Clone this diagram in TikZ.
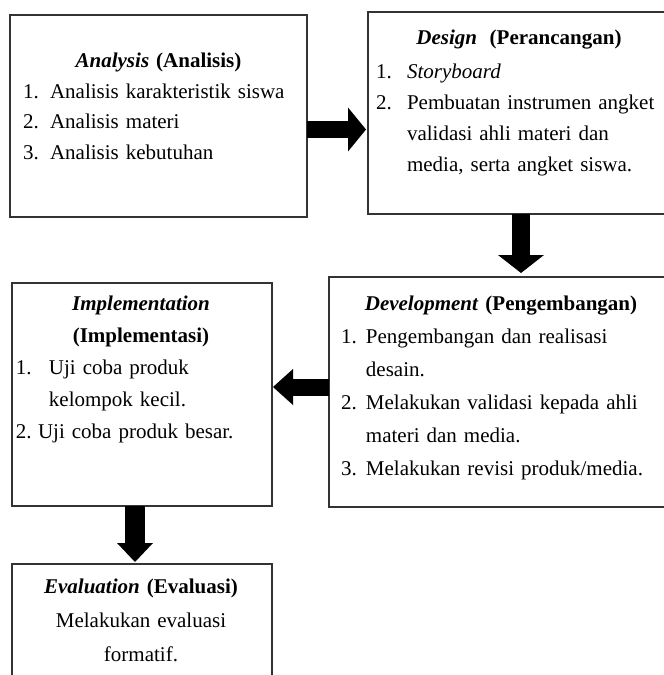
\documentclass[tikz,border=0pt]{standalone}
\usepackage{fontspec}
\setmainfont{Liberation Serif}
\usetikzlibrary{arrows.meta,calc,positioning}
\setlength{\parskip}{0pt}
\newcommand{\itm}[3][1.3em]{\noindent\makebox[#1][l]{#2}#3\par}
\newcommand{\cont}[2][1.3em]{\noindent\hspace*{#1}#2\par}

\tikzset{
	box/.style={draw=black!80, line width=1.1pt, anchor=north west, inner sep=0pt, outer sep=0pt},
	txt/.style={inner sep=0pt, outer sep=0pt, font=\fontsize{15.75}{#1}\selectfont},
	ttl/.style={txt=#1, anchor=base, text width=250pt, align=center},
	lst/.style={txt=#1, anchor=base west, text width=240pt, align=left},
	blockarrow/.style n args={3}{line width=#1, -{Triangle[width=#2, length=#3, line width=0pt]}},
}

\begin{document}
\begin{tikzpicture}[x=0.75pt, y=-0.75pt]
	\useasboundingbox (0,0) rectangle (664,675);
	\clip (0,0) rectangle (664,675);

	% boxes
	\node[box, minimum width=297*0.75pt, minimum height=202*0.75pt] (ana) at (10,15) {};
	\node[box, minimum width=302*0.75pt, minimum height=202*0.75pt] (des) at (368,12) {};
	\node[box, minimum width=345*0.75pt, minimum height=230*0.75pt] (dev) at (329,277) {};
	\node[box, minimum width=260*0.75pt, minimum height=223*0.75pt] (imp) at (12,283) {};
	\node[box, minimum width=260*0.75pt, minimum height=140*0.75pt] (eva) at (12,564) {};

	% texts
	\node[ttl=23pt] (anat) at (158.5,67) {\textbf{\textit{Analysis}} \textbf{(Analisis)}};
	\node[lst=23pt] (anal) at (23,98) {\itm[1.29em]{1.}{Analisis karakteristik siswa}\itm[1.29em]{2.}{Analisis materi}\itm[1.29em]{3.}{Analisis kebutuhan}};

	\node[ttl=23.25pt] (dest) at (519,44) {\textbf{\textit{Design}}\hspace{0.6em}\textbf{(Perancangan)}};
	\node[lst=23.25pt] (desl) at (376,78) {\itm[1.48em]{1.}{\textit{Storyboard}}\itm[1.48em]{2.}{Pembuatan instrumen angket}\cont[1.48em]{validasi ahli materi dan}\cont[1.48em]{media, serta angket siswa.}};

	\node[ttl=24.75pt] (devt) at (501,310) {\textbf{\textit{Development}} \textbf{(Pengembangan)}};
	\node[lst=24.75pt] (devl) at (341,343) {\itm[1.19em]{1.}{Pengembangan dan realisasi}\cont[1.19em]{desain.}\itm[1.19em]{2.}{Melakukan validasi kepada ahli}\cont[1.19em]{materi dan media.}\itm[1.19em]{3.}{Melakukan revisi produk/media.}};

	\node[ttl=24pt] (impt) at (141,310) {\textbf{\textit{Implementation}}\\\textbf{(Implementasi)}};
	\node[lst=24pt] (impl) at (16,374) {\itm[1.57em]{1.}{Uji coba produk}\cont[1.57em]{kelompok kecil.}\itm[1.05em]{2.}{Uji coba produk besar.}};

	\node[ttl=25.5pt] (evat) at (141,593) {\textbf{\textit{Evaluation}} \textbf{(Evaluasi)}\\Melakukan evaluasi\\formatif.};

	% arrows
	\coordinate (r1) at ([yshift=-10.125pt]ana.east);
	\draw[blockarrow={12.75pt}{33pt}{13.5pt}, shorten >=1.5pt] (r1) -- (r1 -| des.west);

	\coordinate (d1) at ([xshift=1.5pt]des.south);
	\draw[blockarrow={13.5pt}{34.5pt}{13.5pt}, shorten >=3pt] (d1) -- (d1 |- dev.north);

	\coordinate (l1) at ([yshift=3.75pt]dev.west);
	\draw[blockarrow={12.75pt}{27pt}{15pt}, shorten >=0.75pt] (l1) -- (l1 -| imp.east);

	\coordinate (d2) at ([xshift=-5.25pt]imp.south);
	\draw[blockarrow={15pt}{27pt}{14.25pt}, shorten >=1.5pt] (d2) -- (d2 |- eva.north);
\end{tikzpicture}
\end{document}
